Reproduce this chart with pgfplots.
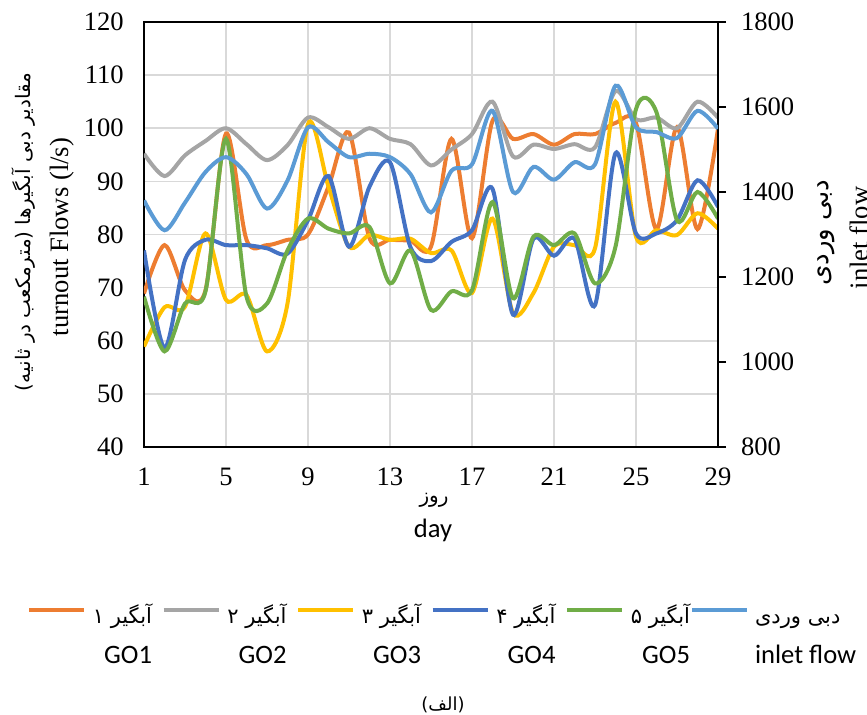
\documentclass[border=0pt]{standalone}
\usepackage{pgfplots}
\pgfplotsset{compat=1.18}
\usepackage{fontspec}
\setmainfont{Liberation Serif}
\newfontfamily\calibri{Carlito}
\newfontfamily\arabicfont[Script=Arabic]{DejaVu Sans}
\TeXXeTstate=1

\definecolor{goA}{HTML}{ED7D31}
\definecolor{goB}{HTML}{A5A5A5}
\definecolor{goC}{HTML}{FFC000}
\definecolor{goD}{HTML}{4472C4}
\definecolor{goE}{HTML}{70AD47}
\definecolor{inl}{HTML}{5B9BD5}
\definecolor{gridgray}{HTML}{D9D9D9}

% day, GO1..GO5 (l/s)
\pgfplotstableread{
d  g1    g2    g3    g4    g5
1  68.9  95.2  58.9  77.0  68.3
2  78.0  91.0  66.3  58.6  58.0
3  69.5  94.9  66.4  75.2  67.0
4  69.5  97.6  80.2  79.0  69.3
5  99.0  100.0 67.7  78.0  98.0
6  79.0  97.0  68.6  78.0  68.3
7  78.0  94.0  58.0  77.4  67.0
8  79.0  96.8  67.0  76.4  77.0
9  80.0  102.0 100.8 82.7  83.0
10 89.0  100.2 89.0  91.0  81.1
11 99.2  98.0  77.7  77.7  80.2
12 79.3  100.0 79.9  89.0  81.4
13 79.0  98.0  79.0  93.6  70.8
14 78.8  97.0  79.2  77.6  77.0
15 77.7  93.0  76.5  75.0  65.8
16 98.0  96.0  77.0  78.6  69.3
17 79.3  98.9  69.0  80.8  69.5
18 101.4 105.0 83.0  88.6  86.1
19 98.0  94.7  65.2  64.9  68.0
20 98.9  96.9  69.0  79.2  79.6
21 96.9  96.1  77.7  76.0  78.0
22 98.9  97.0  78.0  79.2  80.2
23 98.9  96.4  77.4  66.7  70.8
24 101.0 107.0 105.0 95.3  77.7
25 101.0 101.7 79.6  80.2  103.6
26 81.0  102.0 80.8  80.2  103.0
27 100.2 100.0 79.9  82.7  82.7
28 81.0  105.0 84.0  90.2  88.0
29 99.9  102.0 81.1  85.2  83.0
}\goflows

% day, inlet flow (l/s)
\pgfplotstableread{
d  q
1  1380
2  1310
3  1375
4  1447
5  1482
6  1442
7  1361
8  1427
9  1552
10 1517
11 1482
12 1490
13 1482
14 1442
15 1352
16 1450
17 1465
18 1591
19 1400
20 1459
21 1429
22 1470
23 1465
24 1650
25 1552
26 1541
27 1527
28 1591
29 1549
}\inletflow

\newcommand{\fa}[1]{{\arabicfont\fontsize{10.5}{12}\selectfont\beginR #1\endR}}
\newcommand{\gobox}[2]{\makebox[30pt][r]{\begin{tabular}[t]{@{}r@{}}\fa{#1}\\[4pt]#2\end{tabular}}}
% entries 1-4 carry the gap to the next entry, entry 5 does not
\newcommand{\goentry}[2]{\makebox[34.75pt][l]{\gobox{#1}{#2}}}

\pgfplotsset{
  common/.style={
    width=287pt, height=212.5pt, scale only axis,
    xmin=1, xmax=29, xtick={1,5,...,29},
    /pgf/number format/assume math mode=true,
    /pgf/number format/1000 sep={},
    ticklabel style={font=\fontsize{13.3}{16}\selectfont},
    axis line style={line width=1pt, black},
  },
  ser/.style={smooth, tension=0.5, line width=2pt, #1},
}

\begin{document}
\begin{tikzpicture}[x=1pt,y=1pt]
\begin{axis}[common,
  ymin=40, ymax=120, ytick={40,50,...,120},
  grid=major, grid style={draw=gridgray, line width=0.8pt},
  major tick length=0pt,
  yticklabel style={xshift=-6.6pt},
  xticklabel style={yshift=-7pt},
  ]
\addplot[ser=goA] table[x=d,y=g1] {\goflows};
\addplot[ser=goB] table[x=d,y=g2] {\goflows};
\addplot[ser=goC] table[x=d,y=g3] {\goflows};
\addplot[ser=goD] table[x=d,y=g4] {\goflows};
\addplot[ser=goE] table[x=d,y=g5] {\goflows};
\end{axis}
\begin{axis}[common,
  axis x line=none, axis y line*=right,
  ymin=800, ymax=1800, ytick={800,1000,...,1800},
  tick align=outside, major tick length=4pt,
  tick style={line width=1pt, black},
  yticklabel style={xshift=4pt},
  legend columns=6,
  legend style={at={(axis description cs:-0.2038,-0.362)}, anchor=north west,
    draw=none, fill=none, inner sep=0pt, outer sep=0pt,
    nodes={inner sep=0pt},
    font=\calibri\fontsize{13.3}{16}\selectfont,
    /tikz/every odd column/.append style={column sep=3pt},
    /tikz/every even column/.append style={column sep=0pt}},
  legend image code/.code={\draw[#1] plot coordinates {(0pt,2pt) (27.5pt,2pt)};},
  ]
\addlegendimage{ser=goA}
\addlegendentry{\goentry{آبگیر ۱}{GO1}}
\addlegendimage{ser=goB}
\addlegendentry{\goentry{آبگیر ۲}{GO2}}
\addlegendimage{ser=goC}
\addlegendentry{\goentry{آبگیر ۳}{GO3}}
\addlegendimage{ser=goD}
\addlegendentry{\goentry{آبگیر ۴}{GO4}}
\addlegendimage{ser=goE}
\addlegendentry{\gobox{آبگیر ۵}{GO5}}
\addplot[ser=inl] table[x=d,y=q] {\inletflow};
\addlegendentry{\begin{tabular}[t]{@{}l@{}}\fa{دبی وردی}\\[4pt]inlet flow\end{tabular}}
\end{axis}

% axis titles
\node[rotate=90] at (-60,107.5) {\arabicfont\fontsize{10}{12}\selectfont\beginR مقادیر دبی آبگیرها (مترمکعب در ثانیه)\endR};
\node[rotate=90] at (-41,105) {\fontsize{13.3}{16}\selectfont turnout Flows (l/s)};
\node[rotate=90] at (341,107) {\arabicfont\fontsize{13}{15}\selectfont\beginR دبی وردی\endR};
\node[rotate=90, anchor=base, inner sep=0pt] at (362,104.5) {\fontsize{13.3}{16}\selectfont inlet flow};
\node at (145,-26.5) {\arabicfont\fontsize{10}{12}\selectfont\beginR روز\endR};
\node[anchor=base, inner sep=0pt] at (144.5,-45.5) {\calibri\fontsize{13.3}{16}\selectfont day};
\node at (149.5,-129) {\arabicfont\fontsize{9}{11}\selectfont\beginR (الف)\endR};

\pgfresetboundingbox
\path[use as bounding box] (-72,-134) rectangle (361.5,223.5);
\end{tikzpicture}
\end{document}
